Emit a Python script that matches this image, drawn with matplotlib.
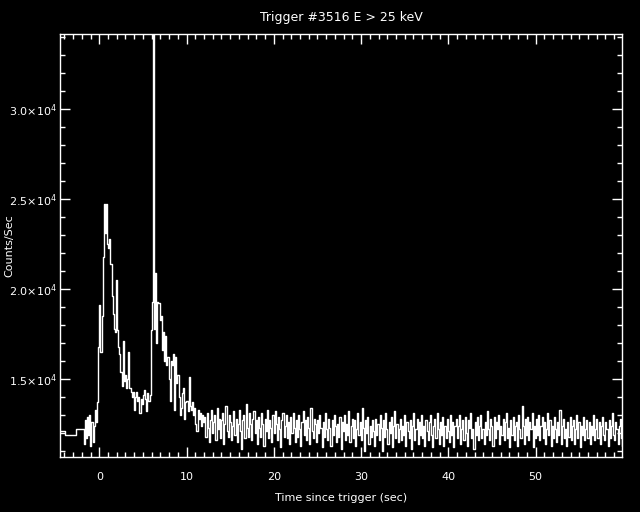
import numpy as np
import matplotlib
matplotlib.use("Agg")
import matplotlib.pyplot as plt
from matplotlib.ticker import MultipleLocator, FuncFormatter

# ------------------ DATA ------------------
# coarse pre-trigger bins (edges in s, rates in counts/s)
pre_edges = [-4.5, -3.98, -2.67, -1.92]
pre_rates = [12110, 11870, 12220]

# fine bins after -1.92 s, width 0.128 s, rates in units of 100 counts/s
fine_t0 = -1.92
fine_dt = 0.128
burst = [122, 114, 127, 117, 129, 119, 130, 113, 126, 115, 124, 133, 126, 137, 168,
         191, 165, 185, 218, 247, 231, 247, 225, 223, 228, 214, 196, 186, 178, 176,
         205, 177, 168, 164, 154, 146, 171, 149, 152, 145, 150, 165, 145, 143, 140,
         143, 133, 140, 143, 138, 140, 131, 139, 136, 141, 144, 139, 132, 142, 138,
         141, 177, 193, 360, 178, 209, 170, 193, 192, 183, 185, 166, 176, 160, 174,
         158, 162, 150, 138, 160, 158, 164, 133, 162, 148, 152, 140, 130, 134, 142,
         145, 128, 137, 138, 132, 151, 135, 133, 137, 130, 134, 125, 121, 133, 128,
         131, 124, 130, 126]
background = [
    129, 118, 131, 123, 115, 127, 133, 120, 126, 130, 116, 134, 122, 128, 117, 127, 131, 114, 125, 135, 121, 118, 130, 126, 116,
    124, 132, 119, 128, 115, 125, 133, 121, 111, 127, 130, 117, 136, 123, 118, 131, 125, 116, 128, 132, 120, 127, 114, 129, 123,
    118, 131, 125, 113, 128, 121, 133, 117, 127, 123, 115, 130, 120, 132, 125, 116, 129, 122, 112, 127, 131, 118, 124, 130, 117,
    126, 114, 129, 120, 131, 123, 115, 127, 118, 130, 122, 113, 126, 132, 119, 127, 116, 129, 123, 114, 134, 121, 117, 128, 125,
    115, 127, 120, 130, 123, 112, 126, 118, 131, 122, 116, 128, 123, 113, 127, 119, 130, 124, 115, 125, 118, 129, 111, 126, 121,
    130, 116, 125, 119, 132, 115, 124, 128, 117, 127, 113, 122, 131, 119, 126, 116, 134, 123, 110, 127, 120, 129, 114, 124, 118,
    127, 121, 113, 128, 119, 125, 116, 130, 123, 110, 127, 118, 131, 122, 114, 126, 120, 129, 112, 124, 132, 117, 125, 115, 122,
    128, 116, 124, 119, 130, 113, 126, 121, 117, 127, 111, 124, 131, 116, 122, 128, 114, 126, 119, 130, 117, 124, 113, 127, 121,
    116, 126, 130, 119, 112, 124, 128, 117, 131, 122, 114, 126, 119, 129, 113, 124, 117, 128, 121, 115, 130, 119, 126, 112, 124,
    128, 117, 124, 130, 114, 122, 127, 116, 129, 120, 113, 127, 123, 131, 117, 122, 111, 126, 119, 129, 116, 124, 130, 117, 122,
    114, 126, 119, 132, 122, 116, 128, 124, 113, 129, 117, 126, 122, 130, 114, 124, 119, 128, 116, 126, 131, 117, 123, 112, 127,
    119, 129, 116, 124, 126, 113, 130, 122, 117, 135, 124, 114, 128, 119, 129, 116, 126, 122, 131, 112, 124, 117, 128, 119, 130,
    116, 124, 129, 117, 126, 114, 122, 131, 119, 127, 113, 124, 117, 129, 122, 115, 126, 119, 133, 114, 124, 128, 117, 122, 113,
    126, 118, 129, 116, 124, 127, 114, 122, 130, 117, 126, 112, 124, 119, 129, 116, 122, 127, 117, 126, 114, 124, 119, 130, 116,
    122, 128, 117, 126, 114, 124, 129, 119, 116, 126, 122, 113, 127, 117, 124, 131, 119, 116, 126, 122, 114, 124, 128, 117, 113,
]

title = "Trigger #3516 E > 25 keV"

# ------------------ BUILD STEP CURVE ------------------
fine_rates = np.array(burst + background, dtype=float) * 100.0
fine_edges = fine_t0 + fine_dt * np.arange(len(fine_rates) + 1)

t = np.concatenate([pre_edges[:-1], fine_edges])
r = np.concatenate([pre_rates, fine_rates, [fine_rates[-1]]])

# ------------------ PLOT ------------------
plt.rcParams.update({
    "font.family": "DejaVu Sans",
    "font.size": 8,
    "text.color": "white",
    "axes.edgecolor": "white",
    "axes.labelcolor": "white",
    "xtick.color": "white",
    "ytick.color": "white",
})

fig = plt.figure(figsize=(6.4, 5.12), dpi=100, facecolor="black")
ax = fig.add_axes([60 / 640, 55 / 512, 562 / 640, 423 / 512], facecolor="black")

ax.plot(t, r, drawstyle="steps-post", color="white", lw=1.0)

ax.set_xlim(-4.5, 59.9)
ax.set_ylim(10670, 34170)

ax.xaxis.set_major_locator(MultipleLocator(10))
ax.xaxis.set_minor_locator(MultipleLocator(1))
ax.yaxis.set_major_locator(MultipleLocator(5000))
ax.yaxis.set_minor_locator(MultipleLocator(1000))
ax.yaxis.set_major_formatter(FuncFormatter(lambda v, p: r"%.1f$\times$10$^4$" % (v / 1e4)))

ax.tick_params(which="both", direction="in", top=True, right=True, width=1.0)
ax.tick_params(which="major", length=7)
ax.tick_params(which="minor", length=3.5)
ax.tick_params(axis="x", which="major", pad=11, labelsize=8)
ax.tick_params(axis="y", which="major", pad=2, labelsize=8)
for s in ax.spines.values():
    s.set_linewidth(1.0)

ax.set_title(title, fontsize=9, color="white", pad=9)
ax.set_xlabel("Time since trigger (sec)", fontsize=8, labelpad=8)
ax.set_ylabel("Counts/Sec", fontsize=8)
ax.yaxis.set_label_coords(-46 / 562, 0.5)

fig.savefig("out.png", dpi=100, facecolor="black")
